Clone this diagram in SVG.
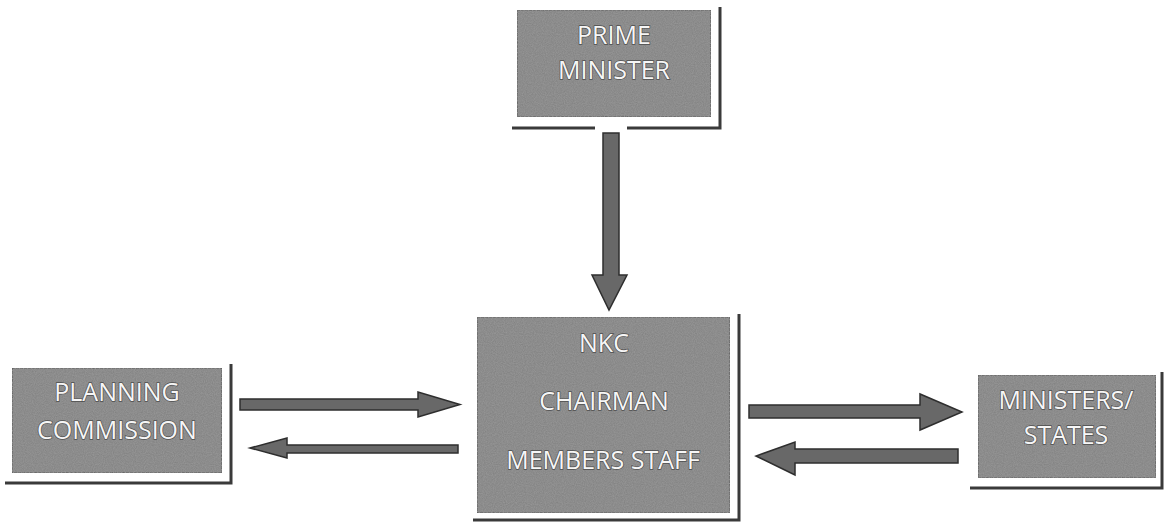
<svg xmlns="http://www.w3.org/2000/svg" width="1164" height="524" viewBox="0 0 1164 524">
<defs>
<filter id="grain" x="0" y="0" width="100%" height="100%">
<feTurbulence type="fractalNoise" baseFrequency="0.9" numOctaves="2" seed="3" result="n"/>
<feColorMatrix in="n" type="matrix" values="0 0 0 0 0.5  0 0 0 0 0.5  0 0 0 0 0.5  0 0 0 0.35 0" result="g"/>
<feComposite in="g" in2="SourceGraphic" operator="in" result="gi"/>
<feMerge><feMergeNode in="SourceGraphic"/><feMergeNode in="gi"/></feMerge>
</filter>
</defs>
<style>
.box{fill:#808080;stroke:#444444;stroke-width:1.2;stroke-dasharray:3 1}
.shadow{fill:none;stroke:#3a3a3a;stroke-width:3}
.lbl{font-family:"Open Sans","Noto Sans",sans-serif;font-size:25px;fill:#f6f6f6;text-anchor:middle;stroke:#4e4e4e;stroke-width:1.4;paint-order:stroke}
.arr{fill:#686868;stroke:#2e2e2e;stroke-width:1.5;stroke-linejoin:miter}
</style>
<rect width="1164" height="524" fill="#ffffff"/>

<g id="prime-minister">
<rect class="box" x="517" y="10" width="194" height="107" filter="url(#grain)"/>
<path class="shadow" d="M720 7 V128 H627 M595 128 H512"/>
<text class="lbl" x="614" y="44">PRIME</text>
<text class="lbl" x="614" y="79">MINISTER</text>
</g>

<g id="nkc">
<rect class="box" x="477" y="317" width="253" height="196" filter="url(#grain)"/>
<path class="shadow" d="M739 314 V520 H473"/>
<text class="lbl" x="604" y="352">NKC</text>
<text class="lbl" x="604" y="410">CHAIRMAN</text>
<text class="lbl" x="603" y="469">MEMBERS STAFF</text>
</g>

<g id="planning-commission">
<rect class="box" x="12" y="368" width="210" height="105" filter="url(#grain)"/>
<path class="shadow" d="M231 364 V483 H5"/>
<text class="lbl" x="117" y="401">PLANNING</text>
<text class="lbl" x="117" y="439">COMMISSION</text>
</g>

<g id="ministers-states">
<rect class="box" x="978" y="375" width="178" height="103" filter="url(#grain)"/>
<path class="shadow" d="M1162 372 V488 H970"/>
<text class="lbl" x="1066" y="409">MINISTERS/</text>
<text class="lbl" x="1066" y="444">STATES</text>
</g>

<g id="connectors">
<polygon class="arr" points="603,133 619,133 619,275 627,275 609,310 592,275 603,275"/>
<polygon class="arr" points="240,399 418,399 418,392 460,404.5 418,417 418,410 240,410"/>
<polygon class="arr" points="458,445 287,445 287,438 250,448 287,458 287,453 458,453"/>
<polygon class="arr" points="749,405 920,405 920,394 962,412 920,430 920,418 749,418"/>
<polygon class="arr" points="958,449 795,449 795,442 756,456 795,475 795,463 958,463"/>
</g>
</svg>
